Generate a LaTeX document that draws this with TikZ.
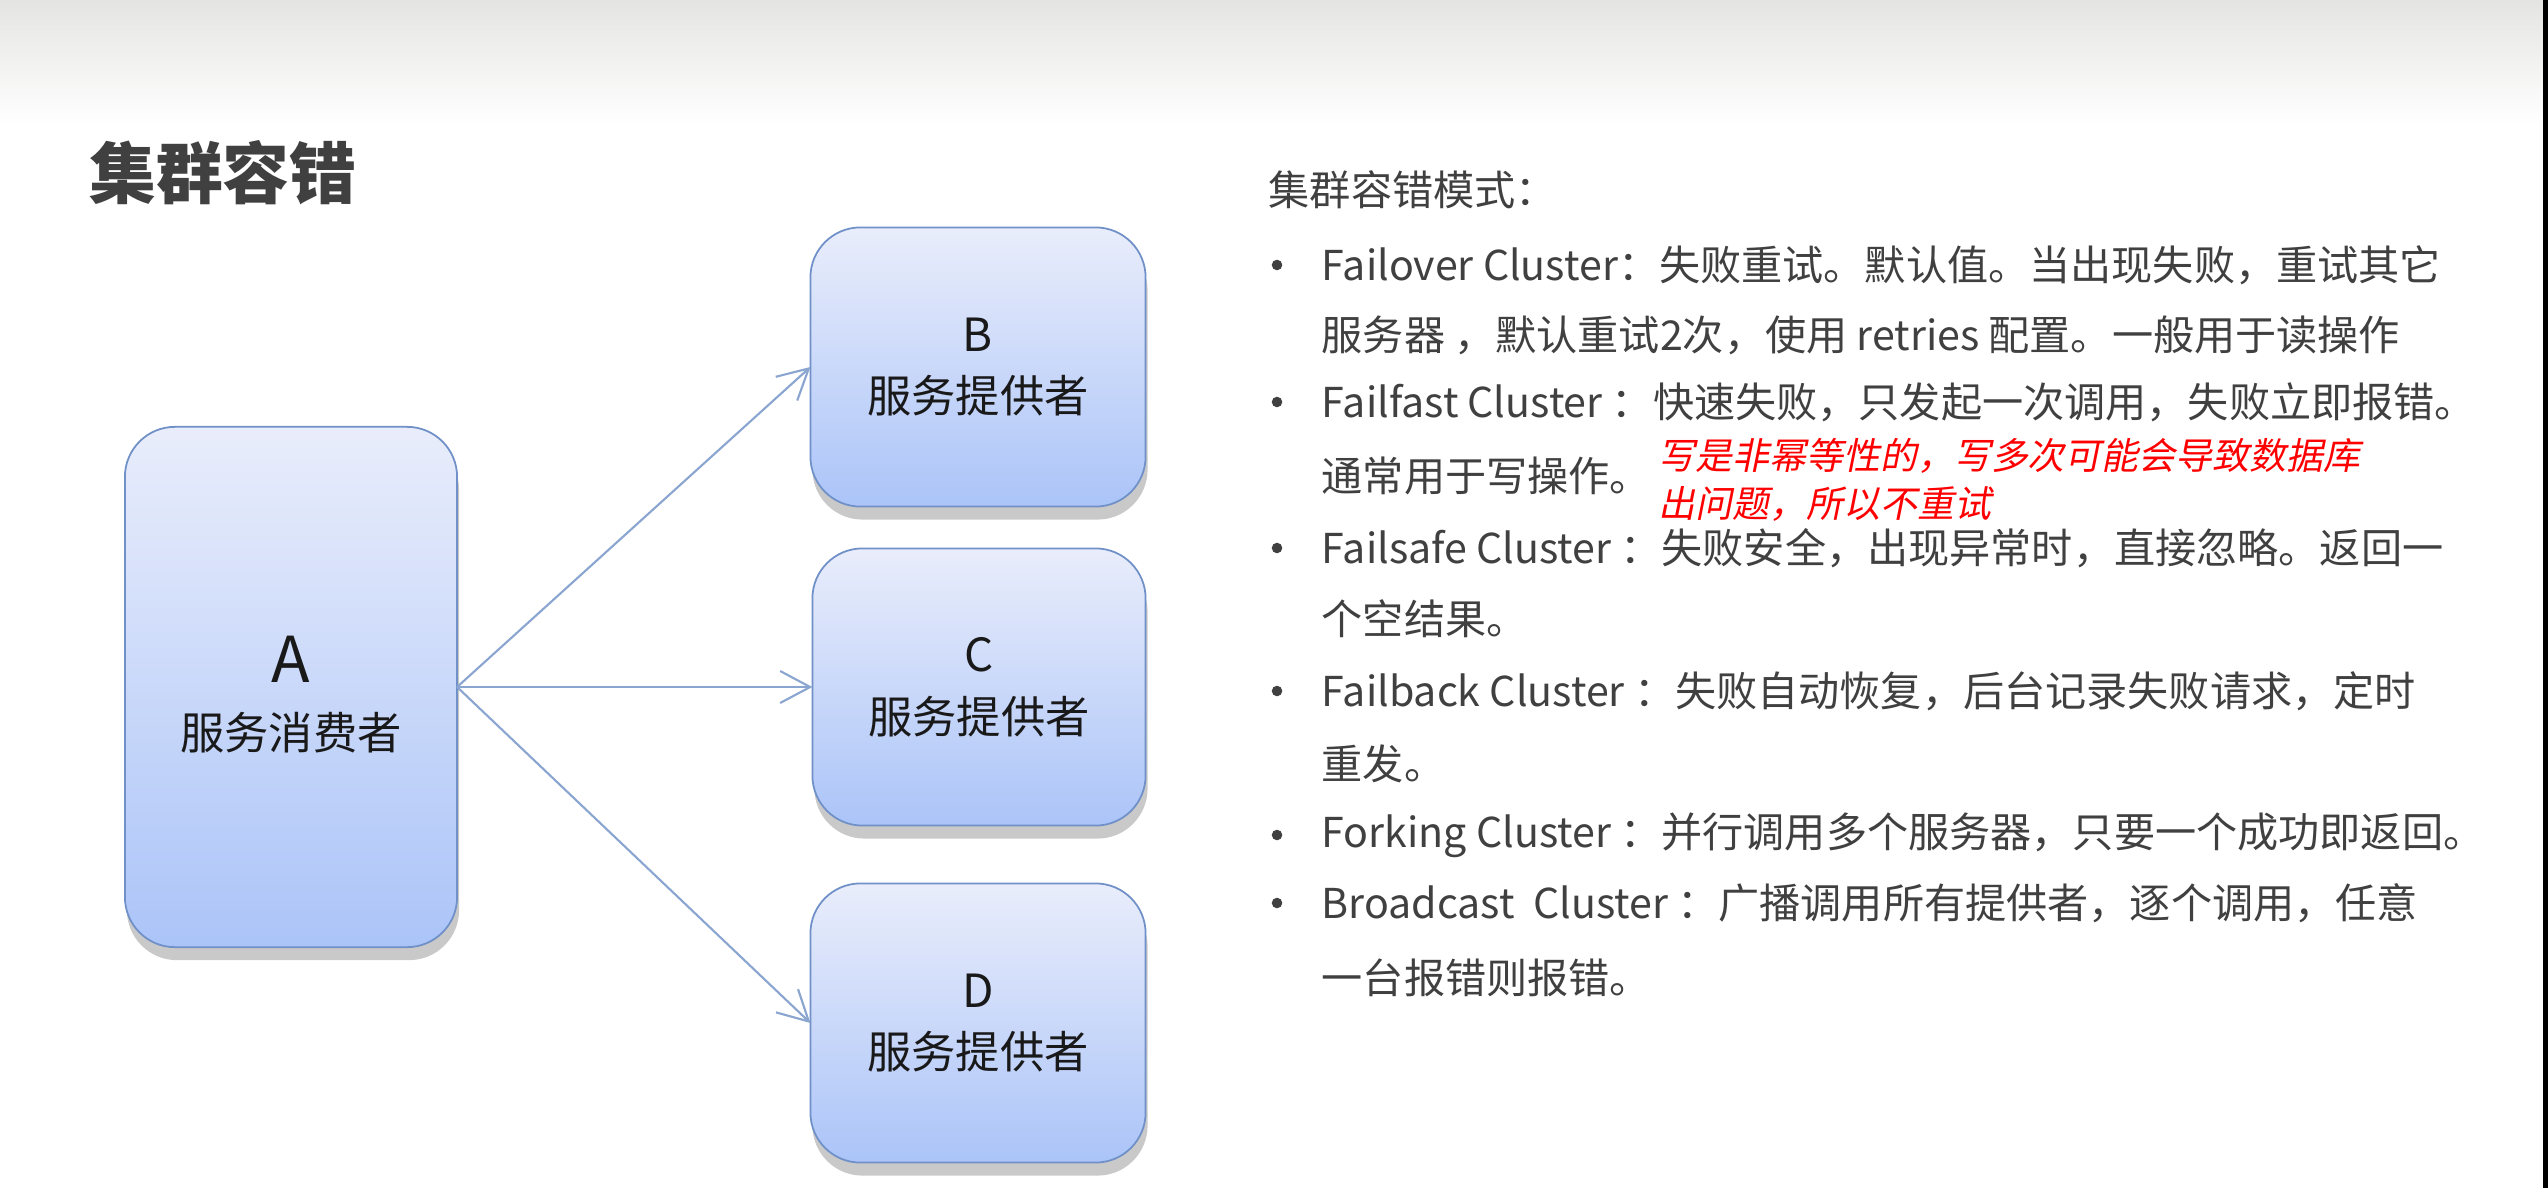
\documentclass[tikz,border=0pt]{standalone}
\usepackage{fontspec}
\setmainfont{Noto Sans CJK SC}
\newfontfamily\notefont[FakeSlant=0.2]{Noto Sans CJK SC}
\usetikzlibrary{arrows.meta,shadows}

\definecolor{textgray}{HTML}{404040}
\definecolor{boxline}{HTML}{7090C8}
\definecolor{boxtop}{HTML}{E9EDFB}
\definecolor{boxbottom}{HTML}{ABC4F8}
\definecolor{linkblue}{HTML}{8AA5D0}
\definecolor{bandgray}{HTML}{E4E5E3}

\tikzset{
  box/.style={draw=boxline, line width=0.5pt, rounded corners=0.5cm,
    top color=boxtop, bottom color=boxbottom, text=black!90, align=center,
    inner sep=0pt, outer sep=0pt,
    drop shadow={shadow xshift=0.2mm, shadow yshift=-1.3mm, fill=black!60, opacity=0.35},
    font=\fontsize{12.6pt}{15pt}\selectfont},
  link/.style={draw=linkblue, line width=0.6pt, -{Straight Barb[length=3mm,width=3.2mm]}},
  item/.style={anchor=west, inner sep=0pt, text=textgray, font=\fontsize{11.7pt}{14pt}\selectfont},
  bulletdot/.style={circle, fill=textgray, inner sep=0pt, minimum size=3pt},
  note/.style={anchor=west, inner sep=0pt, text=red, font=\notefont\fontsize{10.5pt}{13pt}\selectfont}
}

\begin{document}
\begin{tikzpicture}[x=0.01cm, y=-0.01cm]
\useasboundingbox (0,0) rectangle (2548,1188);

% Fondo
\fill[white] (0,0) rectangle (2548,1188);
\shade[top color=bandgray, bottom color=white] (0,0) rectangle (2548,125);
\fill[black] (2543,0) rectangle (2548,1188);

% Titulo
\node[text=textgray, font=\fontsize{19pt}{22pt}\selectfont\bfseries] (title) at (223,173) {集群容错};

% Cajas
\node[box, minimum width=3.32cm, minimum height=5.2cm] (A) at (291,687)
  {{\fontsize{18pt}{15pt}\selectfont\rule{0pt}{17.5pt}A}\\[4pt]服务消费者};
\node[box, minimum width=3.35cm, minimum height=2.79cm] (B) at (978,367)
  {{\fontsize{13pt}{15pt}\selectfont B}\\[2.6pt]服务提供者};
\node[box, minimum width=3.33cm, minimum height=2.77cm] (C) at (979,687)
  {{\fontsize{13pt}{15pt}\selectfont C}\\[2.6pt]服务提供者};
\node[box, minimum width=3.35cm, minimum height=2.79cm] (D) at (978,1023)
  {{\fontsize{13pt}{15pt}\selectfont D}\\[2.6pt]服务提供者};

% Flechas
\draw[link] (A.east) -- (B.west);
\draw[link] (A.east) -- (C.west);
\draw[link] (A.east) -- (D.west);

% Texto
\node[item, anchor=west] (hd) at (1268,190) {集群容错模式：};

\node[bulletdot] (b1) at (1277,265) {};
\node[item] (l1) at (1321,265) {Failover Cluster：失败重试。默认值。当出现失败，重试其它};
\node[item] (l2) at (1321,335) {服务器 ，默认重试2次，使用 retries 配置。一般用于读操作};

\node[bulletdot] (b2) at (1277,402) {};
\node[item] (l3) at (1321,402) {Failfast Cluster ：快速失败，只发起一次调用，失败立即报错。};
\node[item] (l4) at (1321,476) {通常用于写操作。};
\node[note] (n1) at (1658,456) {写是非幂等性的，写多次可能会导致数据库};
\node[note] (n2) at (1658,504) {出问题，所以不重试};

\node[bulletdot] (b3) at (1277,548) {};
\node[item] (l5) at (1321,548) {Failsafe Cluster ：失败安全，出现异常时，直接忽略。返回一};
\node[item] (l6) at (1321,619) {个空结果。};

\node[bulletdot] (b4) at (1277,691) {};
\node[item] (l7) at (1321,691) {Failback Cluster ：失败自动恢复，后台记录失败请求，定时};
\node[item] (l8) at (1321,764) {重发。};

\node[bulletdot] (b5) at (1277,835) {};
\node[item] (l9) at (1321,835) {Forking Cluster ：并行调用多个服务器，只要一个成功即返回。};

\node[bulletdot] (b6) at (1277,903) {};
\node[item] (l10) at (1321,903) {Broadcast\ \ Cluster ：广播调用所有提供者，逐个调用，任意};
\node[item] (l11) at (1321,978) {一台报错则报错。};
\end{tikzpicture}
\end{document}
